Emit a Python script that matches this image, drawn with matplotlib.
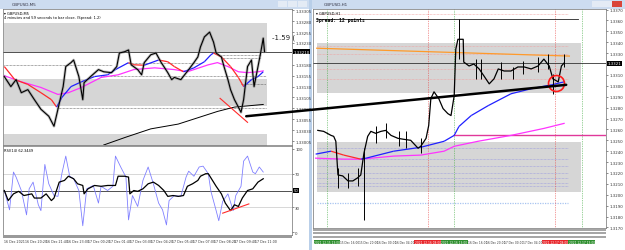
import numpy as np
import matplotlib.pyplot as plt
import matplotlib.transforms as mtrans
from matplotlib.patches import Rectangle, ConnectionPatch
from matplotlib.collections import LineCollection

W, H = 625, 251

# ---- left window: GBPUSD M5 ----
m5_bar = [0, 5, 9, 13, 18, 23, 28, 34, 38, 41, 45, 47, 51, 53, 57, 60, 61, 66, 72, 76,
          82, 86, 88, 92, 95, 97, 102, 105, 107, 112, 116, 120, 122, 125, 128, 130, 135, 141, 145, 148,
          150, 153, 157, 160, 162, 166, 168, 171, 173, 176, 179, 181, 183, 186, 189, 191, 194, 196, 198, 199]
m5_close = [1.33153, 1.33130, 1.33146, 1.33116, 1.33123, 1.33100, 1.33078, 1.33062, 1.33039, 1.33078,
            1.33130, 1.33176, 1.33185, 1.33191, 1.33153, 1.33100, 1.33139, 1.33153, 1.33169, 1.33164,
            1.33162, 1.33176, 1.33207, 1.33210, 1.33214, 1.33180, 1.33169, 1.33157, 1.33185, 1.33203,
            1.33207, 1.33185, 1.33176, 1.33162, 1.33146, 1.33151, 1.33146, 1.33169, 1.33185, 1.33198,
            1.33221, 1.33244, 1.33255, 1.33232, 1.33207, 1.33198, 1.33176, 1.33146, 1.33123, 1.33100,
            1.33083, 1.33071, 1.33100, 1.33176, 1.33191, 1.33130, 1.33176, 1.33207, 1.33241, 1.33210]

m5_fast_bar = [0, 8, 18, 28, 36, 40, 44, 51, 59, 69, 79, 85, 95, 99, 107, 118, 125, 130, 137, 145,
               153, 158, 160, 166, 173, 179, 183, 189, 194, 198]
m5_fast = [1.33176, 1.33146, 1.33135, 1.33116, 1.33100, 1.33083, 1.33105, 1.33130, 1.33141, 1.33153,
           1.33157, 1.33169, 1.33185, 1.33180, 1.33179, 1.33191, 1.33187, 1.33176, 1.33164, 1.33173,
           1.33187, 1.33203, 1.33207, 1.33198, 1.33176, 1.33151, 1.33130, 1.33146, 1.33153, 1.33164]

m5_slow_bar = [0, 13, 28, 41, 49, 59, 74, 87, 99, 115, 130, 140, 156, 163, 171, 179, 186, 194, 198]
m5_slow = [1.33155, 1.33141, 1.33128, 1.33112, 1.33116, 1.33128, 1.33151, 1.33157, 1.33169, 1.33173,
           1.33169, 1.33164, 1.33180, 1.33185, 1.33176, 1.33164, 1.33162, 1.33164, 1.33166]

m5_long_bar = [76, 93, 112, 133, 163, 176, 198]
m5_long = [1.32996, 1.33014, 1.33033, 1.33044, 1.33073, 1.33083, 1.33089]

m5_zones = [(1.33210, 1.33275), (1.33085, 1.33148), (1.32990, 1.33021)]
m5_levels = [(1.33180, 0, 82), (1.33203, 166, 196), (1.33196, 166, 196), (1.33185, 93, 150),
             (1.33155, 74, 200), (1.33135, 181, 200), (1.33080, 40, 200)]
m5_ticks = [1.33305, 1.33280, 1.33255, 1.33230, 1.33180, 1.33155, 1.33130,
            1.33105, 1.33080, 1.33055, 1.33030, 1.33005]
m5_price = 1.33210
m5_red_trend = ([165, 186], [1.33103, 1.33048])

m5_time_bar = [0, 16, 32, 48, 64, 80, 96, 112, 128, 144, 160, 176, 192]
m5_time_lbl = ['16 Dec 2021', '16 Dec 20:20', '16 Dec 21:40', '16 Dec 23:00', '17 Dec 00:20',
               '17 Dec 01:40', '17 Dec 03:00', '17 Dec 04:20', '17 Dec 05:40', '17 Dec 07:00',
               '17 Dec 08:20', '17 Dec 09:40', '17 Dec 11:00']

rsi_bar = [0, 3, 7, 11, 15, 21, 23, 28, 32, 36, 38, 42, 46, 49, 53, 56, 60, 61, 64, 69,
           74, 79, 85, 87, 92, 95, 96, 99, 102, 106, 110, 114, 118, 122, 125, 129, 133, 137, 140, 144,
           148, 150, 154, 156, 160, 162, 166, 169, 173, 176, 179, 182, 186, 190, 194, 198]
rsi_val = [50, 38, 46, 49, 44, 46, 41, 41, 46, 38, 41, 60, 62, 67, 64, 58, 56, 46, 52, 56,
           55, 56, 56, 67, 67, 66, 46, 50, 49, 52, 58, 60, 56, 50, 43, 44, 43, 44, 55, 58,
           62, 67, 70, 70, 60, 55, 46, 35, 26, 33, 31, 41, 50, 52, 60, 64]
osc_bar = [0, 4, 7, 9, 13, 17, 19, 22, 26, 28, 31, 34, 38, 41, 44, 47, 50, 53, 57, 60,
           63, 68, 72, 74, 79, 83, 85, 89, 93, 95, 98, 102, 106, 110, 114, 118, 121, 124, 126, 130,
           135, 139, 141, 145, 149, 152, 156, 158, 162, 164, 167, 171, 175, 177, 181, 183, 186, 190, 192, 195, 198]
osc_val = [50, 27, 72, 66, 50, 21, 52, 60, 33, 26, 81, 58, 44, 43, 70, 91, 67, 64, 50, 8,
           52, 56, 35, 55, 50, 55, 91, 78, 66, 15, 44, 31, 62, 78, 58, 35, 27, 9, 38, 44,
           43, 66, 73, 67, 78, 79, 70, 49, 26, 14, 37, 46, 26, 44, 55, 85, 91, 72, 70, 78, 72]
rsi_div = ([167, 187], [23, 34])
rsi_ticks = [100, 70, 30, 0]

# ---- right window: GBPUSD H1 (x = hours after 15 Dec 13:00) ----
h1_hour = [-1.7, -0.6, 0.8, 1.3, 1.7, 2.1, 3.0, 4.0, 4.9, 5.8, 6.4, 7.0, 7.7, 8.3, 9.2, 10.2,
           11.1, 12.1, 13.4, 14.5, 15.8, 17.2, 17.7, 18.7, 19.2, 19.6, 20.2, 21.1, 21.9, 22.8, 23.4, 24.0,
           24.3, 24.7, 25.7, 25.8, 26.8, 27.7, 28.7, 29.6, 30.6, 31.5, 32.3, 33.4, 34.7, 36.0, 37.2, 38.5,
           39.8, 40.9, 41.9, 42.6, 43.6, 44.2, 44.7]
h1_close = [1.32591, 1.32582, 1.32545, 1.32536, 1.32491, 1.32182, 1.32173, 1.32127, 1.32127, 1.32155,
            1.32182, 1.32382, 1.32536, 1.32582, 1.32564, 1.32582, 1.32591, 1.32545, 1.32518, 1.32509,
            1.32500, 1.32427, 1.32445, 1.32518, 1.32636, 1.32882, 1.32945, 1.32882, 1.32791, 1.32745,
            1.32727, 1.32909, 1.33336, 1.33427, 1.33427, 1.33218, 1.33182, 1.33200, 1.33155, 1.33091,
            1.33018, 1.33064, 1.33155, 1.33136, 1.33136, 1.33173, 1.33173, 1.33155, 1.33182, 1.33245,
            1.33182, 1.33064, 1.33036, 1.33182, 1.33209]
wick_hour = [2.1, 4.0, 5.8, 7.0, 9.2, 11.1, 13.6, 14.9, 17.7, 24.9, 28.1, 29.1, 32.8, 35.1, 37.0,
             39.8, 41.7, 42.6, 44.7]
wick_high = [1.32245, 1.32200, 1.32245, 1.32427, 1.32627, 1.32655, 1.32582, 1.32582, 1.32518, 1.33609,
             1.33245, 1.33245, 1.33218, 1.33173, 1.33227, 1.33264, 1.33291, 1.33109, 1.33291]
wick_low = [1.32064, 1.32064, 1.32082, 1.31764, 1.32473, 1.32518, 1.32445, 1.32427, 1.32382, 1.33245,
            1.33064, 1.33064, 1.33064, 1.33064, 1.33109, 1.33127, 1.33155, 1.32927, 1.33173]

h1_fast_hour = [-2.1, 0.8, 3.2, 6.4, 7.4, 12.6, 17.7, 22.1, 24.0, 24.9, 27.2, 30.4, 34.7, 38.5, 42.3, 44.7]
h1_fast = [1.32373, 1.32400, 1.32364, 1.32327, 1.32336, 1.32400, 1.32436, 1.32491, 1.32545, 1.32627,
           1.32727, 1.32818, 1.32927, 1.32973, 1.33009, 1.33036]
h1_slow_hour = [-2.1, 3.2, 6.4, 12.6, 17.7, 22.1, 24.0, 28.5, 34.7, 40.9, 44.7]
h1_slow = [1.32336, 1.32327, 1.32327, 1.32355, 1.32364, 1.32400, 1.32445, 1.32491, 1.32545, 1.32609, 1.32655]
h1_orange_hour = [-1.9, 45.7]
h1_orange = [1.33345, 1.33273]

h1_zones = [(1.32936, 1.33391), (1.32027, 1.32482)]
h1_pink_levels = [1.33655, 1.33364, 1.33291, 1.33155, 1.33064]
h1_purple_levels = [1.32427, 1.32327, 1.32264, 1.32200, 1.32155, 1.32109, 1.32082]
h1_blue_level = 1.31927
h1_high_line = 1.33609
h1_magenta_level = 1.32545
h1_ticks = [1.3370, 1.3360, 1.3350, 1.3340, 1.3330, 1.3310, 1.3300, 1.3290, 1.3280,
            1.3270, 1.3260, 1.3250, 1.3240, 1.3230, 1.3220, 1.3210, 1.3200, 1.3190, 1.3180, 1.3170]
h1_price = 1.33209
h1_green_vl = [0, 24, 48]
h1_red_vl = [19, 43]
h1_box_hour = [0, 19, 24, 43, 48]
h1_box_lbl = ['2021.12.15 13:00', '2021.12.16 08:00', '2021.12.16 13:00', '2021.12.17 08:00', '2021.12.17 13:00']
h1_box_col = ['#2f8f2f', '#e8262b', '#2f8f2f', '#e8262b', '#2f8f2f']
h1_time_hour = [4.3, 7.8, 11.3, 14.6, 28.5, 31.9, 35.3, 38.8]
h1_time_lbl = ['15 Dec 16:00', '15 Dec 20:00', '16 Dec 00:00', '16 Dec 04:00',
               '16 Dec 16:00', '16 Dec 20:00', '17 Dec 00:00', '17 Dec 04:00']

trend_a = (185, 1.33062)   # on M5 chart
trend_b = (45.1, 1.33009)  # on H1 chart
circle_pt = (43.2, 1.33027)


def fr(x0, y0, x1, y1):
    return [x0 / W, 1 - y1 / H, (x1 - x0) / W, (y1 - y0) / H]


def box(fig, x0, y0, x1, y1, color, z=0):
    r = fr(x0, y0, x1, y1)
    fig.add_artist(Rectangle((r[0], r[1]), r[2], r[3], transform=fig.transFigure,
                             facecolor=color, edgecolor='none', zorder=z))


def slope_line(ax, x, y, lw=0.9):
    pts = np.column_stack([x, y])
    segs = np.stack([pts[:-1], pts[1:]], axis=1)
    cols = ['#2020ff' if b > a else '#ff2a2a' for a, b in zip(y[:-1], y[1:])]
    ax.add_collection(LineCollection(segs, colors=cols, linewidths=lw, zorder=4))


def style(ax, ticks, fmt):
    ax.set_facecolor('white')
    ax.set_xticks([])
    ax.yaxis.tick_right()
    ax.set_yticks(ticks)
    ax.set_yticklabels([fmt.format(t) for t in ticks])
    ax.tick_params(axis='y', labelsize=2.8, length=1.2, width=0.4, pad=1, colors='#333333')
    for s in ax.spines.values():
        s.set_color('#707070')
        s.set_linewidth(0.5)


def price_tag(ax, y, txt):
    tr = mtrans.blended_transform_factory(ax.transAxes, ax.transData)
    ax.text(1.006, y, txt, transform=tr, fontsize=2.8, color='white', va='center', ha='left',
            bbox=dict(boxstyle='square,pad=0.12', fc='black', ec='none'), zorder=10)


fig = plt.figure(figsize=(6.25, 2.51), dpi=100)
fig.patch.set_facecolor('#b9cfe9')

# window chrome
box(fig, 0, 0, 309, 251, 'white')
box(fig, 0, 0, 309, 9.5, '#cddcf0')
box(fig, 312, 0, 625, 251, 'white')
box(fig, 312, 0, 625, 9.5, '#cddcf0')
fig.text(12 / W, 1 - 5 / H, 'GBPUSD,M5', fontsize=3, color='#334', va='center')
fig.text(324 / W, 1 - 5 / H, 'GBPUSD,H1', fontsize=3, color='#334', va='center')
for bx in [278, 288, 298]:
    box(fig, bx, 1.5, bx + 9, 8, '#e4ebf5', 2)
for bx, c in [(592, '#e4ebf5'), (602, '#e4ebf5'), (612, '#d9453a')]:
    box(fig, bx, 1.5, bx + 9.5, 8, c, 2)
box(fig, 3, 236, 292, 238.5, '#9a9a9a', 3)
for y0, y1 in [(229.5, 231.5), (233, 235), (236.5, 238.5)]:
    box(fig, 313, y0, 606, y1, '#a6a6a6', 3)

# ---- M5 price chart ----
ax1 = fig.add_axes(fr(3, 10, 292, 146))
style(ax1, m5_ticks, '{:.5f}')
ax1.set_xlim(-1, 220)
ax1.set_ylim(1.32996, 1.33308)
for lo, hi in m5_zones:
    ax1.fill_between([0, 201], lo, hi, color='#d6d6d6', lw=0, zorder=0)
for y, a, b in m5_levels:
    ax1.plot([a, b], [y, y], color='#555555', lw=0.5, ls=(0, (1, 1)), zorder=1)
ax1.axhline(m5_price, color='#333333', lw=0.6, zorder=2)
ax1.plot(m5_long_bar, m5_long, color='black', lw=0.7, zorder=3)
ax1.plot(m5_slow_bar, m5_slow, color='#ff33ff', lw=0.9, zorder=3)
slope_line(ax1, m5_fast_bar, m5_fast)
ax1.plot(m5_bar, m5_close, color='#777777', lw=2.0, alpha=0.45, zorder=4)
ax1.plot(m5_bar, m5_close, color='black', lw=0.8, zorder=5)
ax1.plot(*m5_red_trend, color='#ff2a2a', lw=0.8, zorder=5)
ax1.text(205, 1.33244, '-1.59 (', fontsize=5, color='#222222', va='center')
ax1.text(0.005, 0.985, '\u25be GBPUSD,M5', transform=ax1.transAxes, fontsize=2.6, va='top')
ax1.text(0.005, 0.955, '4 minutes and 59 seconds to bar close. (Spread: 1.2)',
         transform=ax1.transAxes, fontsize=2.6, va='top')
price_tag(ax1, m5_price, '1.33210')

# ---- RSI panel ----
ax2 = fig.add_axes(fr(3, 147, 292, 236))
style(ax2, rsi_ticks, '{:d}')
ax2.set_xlim(-1, 220)
ax2.set_ylim(-3, 103)
ax2.axhline(70, color='#c8c8c8', lw=0.5)
ax2.axhline(30, color='#c8c8c8', lw=0.5)
ax2.axhline(50, color='#333333', lw=0.6)
ax2.plot(osc_bar, osc_val, color='#8080ff', lw=0.6, zorder=3)
ax2.plot(rsi_bar, rsi_val, color='black', lw=0.9, zorder=4)
ax2.plot(*rsi_div, color='#ff2a2a', lw=0.8, zorder=5)
ax2.text(0.005, 0.98, 'RSI(14) 62.3449', transform=ax2.transAxes, fontsize=2.6, va='top')
price_tag(ax2, 50, '50')
tr2 = mtrans.blended_transform_factory(ax2.transData, fig.transFigure)
for b, lbl in zip(m5_time_bar, m5_time_lbl):
    fig.text(b, 1 - 242 / H, lbl, transform=tr2, fontsize=2.3, color='#333333', ha='left', va='center')

# ---- H1 chart ----
ax3 = fig.add_axes(fr(313, 10, 606, 229))
style(ax3, h1_ticks, '{:.4f}')
ax3.set_xlim(-2.6, 52.6)
ax3.set_ylim(1.31695, 1.33705)
for lo, hi in h1_zones:
    ax3.fill_between([-1.9, 47.9], lo, hi, color='#d6d6d6', lw=0, zorder=0)
for y in h1_pink_levels:
    ax3.plot([-1.9, 45.5], [y, y], color='#f0a0a0', lw=0.5, ls=(0, (1, 1)), zorder=1)
for y in h1_purple_levels:
    ax3.plot([-1.9, 45.5], [y, y], color='#9a9ae0', lw=0.5, ls=(0, (1, 1)), zorder=1)
ax3.plot([-1.9, 45.5], [h1_blue_level] * 2, color='#a8c4f0', lw=0.9, ls=(0, (1, 1)), zorder=1)
for h in h1_green_vl:
    ax3.axvline(h, color='#3aa83a', lw=0.5, ls=(0, (1, 1.5)), zorder=1)
for h in h1_red_vl:
    ax3.axvline(h, color='#e84040', lw=0.5, ls=(0, (1, 1.5)), zorder=1)
ax3.plot([-1.9, 47.4], [h1_high_line] * 2, color='#222222', lw=0.6, zorder=2)
ax3.axhline(h1_price, color='#333333', lw=0.6, zorder=2)
ax3.plot([24, 52.6], [h1_magenta_level] * 2, color='#e0389a', lw=1.0, zorder=2)
ax3.plot(h1_orange_hour, h1_orange, color='#ff9a2a', lw=0.9, zorder=3)
ax3.plot(h1_slow_hour, h1_slow, color='#ff33ff', lw=0.9, zorder=3)
slope_line(ax3, h1_fast_hour, h1_fast)
ax3.vlines(wick_hour, wick_low, wick_high, color='black', lw=0.7, zorder=5)
ax3.plot(h1_hour, h1_close, color='black', lw=0.9, zorder=5)
ax3.plot(*circle_pt, 'o', ms=11.5, mfc='none', mec='#ff1a1a', mew=1.2, zorder=7)
ax3.text(0.01, 0.99, '\u25be GBPUSD,H1', transform=ax3.transAxes, fontsize=2.6, va='top')
ax3.text(0.01, 0.965, 'Spread: 12 points', transform=ax3.transAxes, fontsize=3.4,
         family='DejaVu Sans Mono', fontweight='bold', va='top')
price_tag(ax3, h1_price, '1.3321')

tr3 = mtrans.blended_transform_factory(ax3.transData, fig.transFigure)
for h, lbl, c in zip(h1_box_hour, h1_box_lbl, h1_box_col):
    fig.text(h, 1 - 243 / H, lbl, transform=tr3, fontsize=2.1, color='white', ha='center', va='center',
             bbox=dict(boxstyle='square,pad=0.1', fc=c, ec='none'))
for h, lbl in zip(h1_time_hour, h1_time_lbl):
    fig.text(h, 1 - 243 / H, lbl, transform=tr3, fontsize=2.1, color='#333333', ha='center', va='center')

# cross-window trend line
con = ConnectionPatch(xyA=trend_a, coordsA=ax1.transData, xyB=trend_b, coordsB=ax3.transData,
                      color='black', lw=1.8, zorder=20)
fig.add_artist(con)

fig.savefig('out.png', dpi=100, facecolor=fig.get_facecolor())
